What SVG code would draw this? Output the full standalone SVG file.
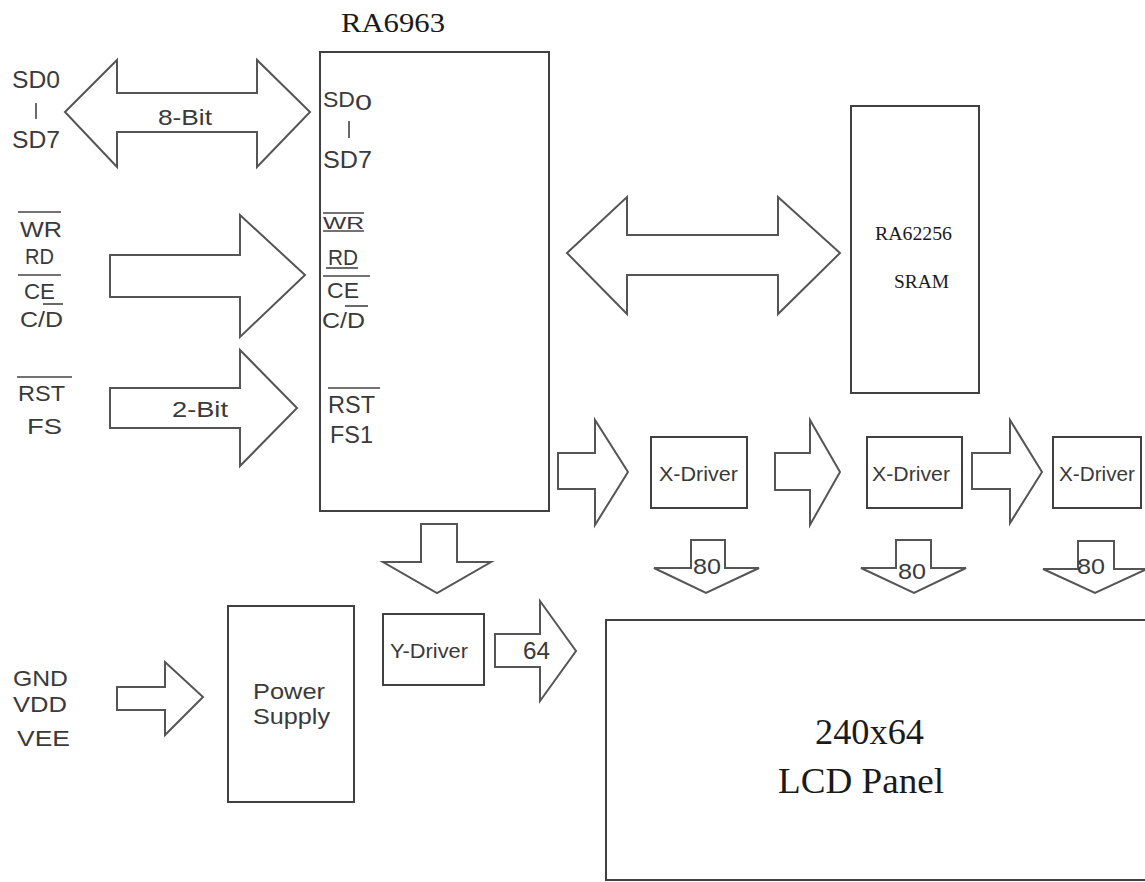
<svg xmlns="http://www.w3.org/2000/svg" width="1145" height="882" viewBox="0 0 1145 882">
<style>
.b{fill:#fff;stroke:#404040;stroke-width:2}
.a{fill:#fff;stroke:#555;stroke-width:2;stroke-linejoin:miter}
.s{font-family:"Liberation Sans",Arial,sans-serif;fill:#3a3a3a}
.t{font-family:"Liberation Serif","Times New Roman",serif;fill:#1a1a1a}
.o{stroke:#444;stroke-width:1.6}
</style>
<rect width="1145" height="882" fill="#fff"/>
<g id="connectors">
<polygon class="a" points="65,112 117,60 117,93 257,93 257,60 310,112 257,167 257,132 117,132 117,167"/>
<polygon class="a" points="110,255 240,255 240,215 305,275 240,337 240,297 110,297"/>
<polygon class="a" points="110,388 240,388 240,350 297,408 240,466 240,428 110,428"/>
<polygon class="a" points="567,253 627,197 627,235 778,235 778,197 840,253 778,314 778,275 627,275 627,314"/>
<polygon class="a" points="558,453 595,453 595,420 628,472 595,525 595,489 558,489"/>
<polygon class="a" points="775,453 810,453 810,420 840,472 810,525 810,490 775,490"/>
<polygon class="a" points="972,453 1010,453 1010,420 1042,472 1010,523 1010,489 972,489"/>
<polygon class="a" points="691,540 725,540 725,568 759,568 706,593 654,568 691,568"/>
<polygon class="a" points="896,540 931,540 931,568 966,568 914,593 861,568 896,568"/>
<polygon class="a" points="1078,541 1114,541 1114,569 1147,569 1095,593 1043,569 1078,569"/>
<polygon class="a" points="421,524 457,524 457,562 491,562 437,593 383,562 421,562"/>
<polygon class="a" points="495,634 540,634 540,601 576,651 540,701 540,667 495,667"/>
<polygon class="a" points="117,687 165,687 165,662 203,697 165,735 165,710 117,710"/>
<text class="s" x="158" y="125" font-size="22" textLength="54" lengthAdjust="spacingAndGlyphs">8-Bit</text>
<text class="s" x="172" y="417" font-size="22" textLength="56" lengthAdjust="spacingAndGlyphs">2-Bit</text>
<text class="s" x="693" y="574" font-size="22" textLength="28" lengthAdjust="spacingAndGlyphs">80</text>
<text class="s" x="898" y="579" font-size="22" textLength="28" lengthAdjust="spacingAndGlyphs">80</text>
<text class="s" x="1077" y="574" font-size="22" textLength="28" lengthAdjust="spacingAndGlyphs">80</text>
<text class="s" x="523" y="659" font-size="23" textLength="27" lengthAdjust="spacingAndGlyphs">64</text>
</g>
<g id="inputs">
<text class="s" x="12" y="88" font-size="23" textLength="48" lengthAdjust="spacingAndGlyphs">SD0</text>
<line class="o" x1="36" y1="103" x2="36" y2="119"/>
<text class="s" x="12" y="148" font-size="23" textLength="48" lengthAdjust="spacingAndGlyphs">SD7</text>
<line class="o" x1="18" y1="212" x2="61" y2="212"/>
<text class="s" x="20" y="237" font-size="22" textLength="42" lengthAdjust="spacingAndGlyphs">WR</text>
<text class="s" x="25" y="264" font-size="22" textLength="29" lengthAdjust="spacingAndGlyphs">RD</text>
<line class="o" x1="18" y1="275" x2="61" y2="275"/>
<text class="s" x="24" y="299" font-size="22" textLength="31" lengthAdjust="spacingAndGlyphs">CE</text>
<line class="o" x1="43" y1="304" x2="63" y2="304"/>
<text class="s" x="20" y="327" font-size="22" textLength="43" lengthAdjust="spacingAndGlyphs">C/D</text>
<line class="o" x1="17" y1="377" x2="72" y2="377"/>
<text class="s" x="18" y="401" font-size="22" textLength="47" lengthAdjust="spacingAndGlyphs">RST</text>
<text class="s" x="27" y="434" font-size="22" textLength="35" lengthAdjust="spacingAndGlyphs">FS</text>
<text class="s" x="13" y="686" font-size="22" textLength="55" lengthAdjust="spacingAndGlyphs">GND</text>
<text class="s" x="13" y="712" font-size="22" textLength="54" lengthAdjust="spacingAndGlyphs">VDD</text>
<text class="s" x="17" y="746" font-size="22" textLength="53" lengthAdjust="spacingAndGlyphs">VEE</text>
</g>
<g id="ra6963">
<text class="t" x="341" y="32" font-size="27" textLength="104" lengthAdjust="spacingAndGlyphs">RA6963</text>
<rect class="b" x="320" y="52" width="229" height="459"/>
<text class="s" x="323" y="107" font-size="22" textLength="32" lengthAdjust="spacingAndGlyphs">SD</text>
<text class="s" x="355" y="110" font-size="22" textLength="17" lengthAdjust="spacingAndGlyphs">0</text>
<line class="o" x1="349" y1="121" x2="349" y2="138"/>
<text class="s" x="323" y="168" font-size="23" textLength="49" lengthAdjust="spacingAndGlyphs">SD7</text>
<line class="o" x1="323" y1="213" x2="364" y2="213"/>
<text class="s" x="323" y="229" font-size="17" textLength="41" lengthAdjust="spacingAndGlyphs">WR</text>
<line class="o" x1="323" y1="231" x2="364" y2="231"/>
<text class="s" x="328" y="265" font-size="22" textLength="30" lengthAdjust="spacingAndGlyphs">RD</text>
<line class="o" x1="326" y1="268" x2="358" y2="268"/>
<line class="o" x1="323" y1="276" x2="370" y2="276"/>
<text class="s" x="327" y="298" font-size="22" textLength="32" lengthAdjust="spacingAndGlyphs">CE</text>
<line class="o" x1="345" y1="306" x2="368" y2="306"/>
<text class="s" x="322" y="328" font-size="22" textLength="43" lengthAdjust="spacingAndGlyphs">C/D</text>
<line class="o" x1="328" y1="388" x2="380" y2="388"/>
<text class="s" x="328" y="413" font-size="23" textLength="47" lengthAdjust="spacingAndGlyphs">RST</text>
<text class="s" x="330" y="443" font-size="23" textLength="43" lengthAdjust="spacingAndGlyphs">FS1</text>
</g>
<g id="sram">
<rect class="b" x="851" y="106" width="128" height="287"/>
<text class="t" x="875" y="240" font-size="18" textLength="77" lengthAdjust="spacingAndGlyphs">RA62256</text>
<text class="t" x="894" y="288" font-size="18" textLength="55" lengthAdjust="spacingAndGlyphs">SRAM</text>
</g>
<g id="xdriver1">
<rect class="b" x="651" y="437" width="96" height="71"/>
<text class="s" x="659" y="481" font-size="20" textLength="79" lengthAdjust="spacingAndGlyphs">X-Driver</text>
</g>
<g id="xdriver2">
<rect class="b" x="867" y="437" width="95" height="71"/>
<text class="s" x="872" y="481" font-size="20" textLength="78" lengthAdjust="spacingAndGlyphs">X-Driver</text>
</g>
<g id="xdriver3">
<rect class="b" x="1053" y="437" width="88" height="71"/>
<text class="s" x="1059" y="481" font-size="20" textLength="76" lengthAdjust="spacingAndGlyphs">X-Driver</text>
</g>
<g id="ydriver">
<rect class="b" x="383" y="614" width="101" height="71"/>
<text class="s" x="390" y="658" font-size="20" textLength="78" lengthAdjust="spacingAndGlyphs">Y-Driver</text>
</g>
<g id="power">
<rect class="b" x="228" y="606" width="126" height="196"/>
<text class="s" x="253" y="699" font-size="22" textLength="72" lengthAdjust="spacingAndGlyphs">Power</text>
<text class="s" x="253" y="724" font-size="22" textLength="77" lengthAdjust="spacingAndGlyphs">Supply</text>
</g>
<g id="lcd">
<rect class="b" x="606" y="620" width="545" height="260"/>
<text class="t" x="815" y="744" font-size="36" textLength="109" lengthAdjust="spacingAndGlyphs">240x64</text>
<text class="t" x="778" y="793" font-size="36" textLength="166" lengthAdjust="spacingAndGlyphs">LCD Panel</text>
</g>
</svg>
